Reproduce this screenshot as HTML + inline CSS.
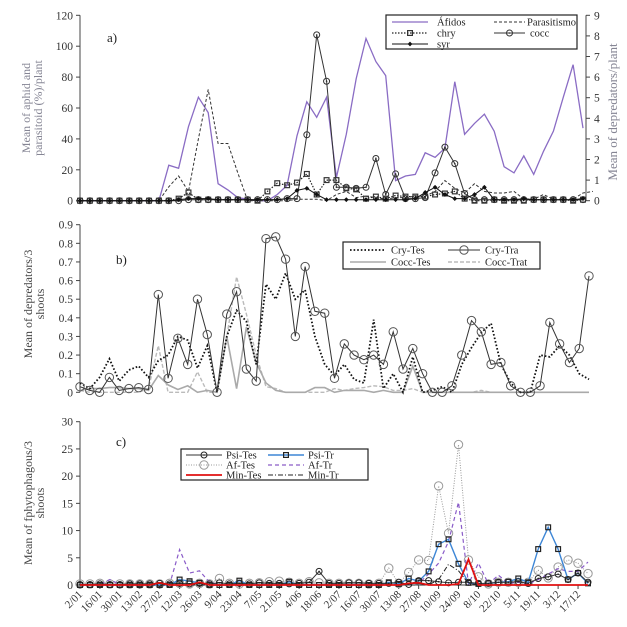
<!DOCTYPE html>
<html><head><meta charset="utf-8"><style>
html,body{margin:0;padding:0;background:#fff;}
svg{display:block;font-family:"Liberation Serif",serif;}
</style></head><body>
<svg id="chart" width="627" height="627" viewBox="0 0 627 627">
<g id="axes"></g>
<g id="series"></g>
<g id="legends"></g>
<text x="107" y="42" font-size="13" fill="#222">a)</text>
<text x="116" y="264" font-size="13" fill="#222">b)</text>
<text x="116" y="446" font-size="13" fill="#222">c)</text>
<text transform="translate(30,108) rotate(-90)" text-anchor="middle" font-size="12" fill="#858594">Mean of aphid and</text>
<text transform="translate(42,108) rotate(-90)" text-anchor="middle" font-size="12" fill="#858594">parasitoid  (%)/plant</text>
<text transform="translate(617,112) rotate(-90)" text-anchor="middle" font-size="13" fill="#858594">Mean of depredators/plant</text>
<text transform="translate(32,304) rotate(-90)" text-anchor="middle" font-size="12" fill="#444">Mean of depredators/3</text>
<text transform="translate(44,304) rotate(-90)" text-anchor="middle" font-size="12" fill="#444">shoots</text>
<text transform="translate(32,503) rotate(-90)" text-anchor="middle" font-size="12" fill="#444">Mean of fphytophagous/3</text>
<text transform="translate(44,503) rotate(-90)" text-anchor="middle" font-size="12" fill="#444">shoots</text>
</svg>
<script>
// ---------- Panel a data ----------
const aAfidos=[0,0,0,0,0,0,0,0,0,23,21,48,67,57,11,7,2,1,0,0,4,10,42,64,54,67,15,43,79,105,90,81,13,16,17,31,28,34,77,43,50,56,45,22,18,29,17,32,45,67,88,47];
const aParasitismo=[0,0,0,0,0,0,0,0,0,9,16,6,40,72,37,37,18,0,0,0,0,0,1,1,1,0,4,6,2,3,2,1,2,2,3,3,6,13,8,5,11,6,5,5,6,1,1,4,1,1,1,5,6];
const aChry=[0,0,0,0,0,0,0,0,0,0,0.1,0.4,0.05,0.05,0.05,0.05,0.05,0.05,0,0.45,0.85,0.75,0.88,1.3,0.3,1.0,1.0,0.6,0.55,0.1,0.2,0.1,0.25,0.2,0.2,0.2,0.3,0.35,0.45,0.1,0,0,0.05,0,0,0,0.05,0.05,0.05,0.05,0,0.05];
const aCoce=[0,0,0,0,0,0,0,0,0,0,0,0.05,0.05,0.05,0.05,0.05,0.05,0.05,0.05,0.05,0.05,0.1,0.1,3.2,8.05,5.8,0.65,0.65,0.6,0.65,2.05,0.3,1.3,0.1,0.1,0.15,1.35,2.6,1.8,0.35,0.05,0.05,0.05,0.05,0.05,0.05,0.05,0.05,0.05,0.05,0.05,0.05];
const aSyr=[0,0,0,0,0,0,0,0,0,0,0.05,0.1,0.1,0.1,0.05,0.05,0.05,0.05,0.05,0.05,0.05,0.1,0.5,0.6,0.3,0.05,0.05,0.05,0.05,0.05,0.05,0.05,0.05,0.05,0.1,0.4,0.65,0.3,0.1,0.1,0.3,0.65,0.05,0.05,0.05,0.1,0.05,0.05,0.05,0.05,0.05,0.1];
const aLeftTicks=[0,20,40,60,80,100,120];
const aRightTicks=[0,1,2,3,4,5,6,7,8,9];
// ---------- Panel b data ----------
const bCryTes=[0.05,0.02,0.08,0.18,0.06,0.12,0.14,0.08,0.17,0.2,0.3,0.28,0.13,0.25,0,0.3,0.44,0.38,0.15,0.58,0.5,0.64,0.5,0.55,0.3,0.15,0.09,0.15,0.07,0.05,0.39,0.02,0.1,0,0.19,0,0.01,0.03,0,0.15,0.24,0.32,0.37,0.15,0.05,0,0,0.2,0.19,0.25,0.2,0.1,0.07];
const bCryTra=[0.03,0.01,0,0.08,0.01,0.02,0.025,0.015,0.525,0.075,0.29,0.15,0.5,0.31,0,0.42,0.54,0.125,0.06,0.825,0.835,0.715,0.3,0.675,0.435,0.425,0.075,0.26,0.2,0.175,0.2,0.15,0.325,0.125,0.235,0.1,0,0,0.035,0.2,0.385,0.325,0.15,0.16,0.035,0,0,0.035,0.375,0.26,0.16,0.235,0.625];
const bCoceTes=[0.01,0.02,0.02,0.025,0.025,0.02,0.02,0.01,0.09,0.04,0.015,0.035,0,0.01,0,0.3,0.02,0.35,0.16,0.05,0.01,0,0,0,0.025,0.025,0,0.01,0.01,0.01,0,0.01,0,0,0.14,0,0,0,0,0,0,0,0,0,0,0,0,0,0,0,0,0,0];
const bCoceTrat=[0.01,0,0,0,0,0,0,0.02,0.25,0,0,0,0.11,0,0,0.3,0.62,0.42,0.2,0.03,0.02,0,0,0,0,0,0.02,0.01,0.02,0.025,0.035,0.03,0.01,0.01,0.02,0,0,0,0,0,0,0.01,0,0,0,0,0,0,0,0,0,0,0];
const bTicks=[0,0.1,0.2,0.3,0.4,0.5,0.6,0.7,0.8,0.9];
// ---------- Panel c data ----------
const cPsiTes=[0.1,0.1,0.2,0.1,0.1,0.2,0.2,0.2,0.3,0.2,0.3,0.2,0.3,0.2,0.4,0.2,0.3,0.2,0.4,0.3,0.3,0.2,0.3,0.5,2.5,0.3,0.3,0.4,0.4,0.3,0.3,0.3,0.5,0.1,0.8,0.8,0.6,0.4,0.5,0.5,0.3,0.3,0.5,0.5,0.6,0.3,1.2,1.5,2.0,1.0,2.2,0.5];
const cPsiTr=[0,0,0,0,0,0,0,0,0,0,1.0,0.7,0.4,0,0,0,0.8,0,0,0,0,0.6,0,0,0,0,0,0,0,0,0,0.5,0.2,1.2,0.7,2.5,7.5,8.4,3.9,0.4,0.2,0.3,0.5,0.6,1.2,0.5,6.6,10.6,6.6,1.0,2.2,0.3];
const cAfTes=[0.2,0.2,0.3,0.2,0.2,0.2,0.2,0.2,0.2,0.3,0.3,0.2,0.3,0.2,1.2,0.3,0.2,0.3,0.4,0.6,0.7,0.5,0.3,0.6,0.4,0.3,0.3,0.3,0.3,0.2,0.3,3.1,0.3,2.3,4.6,4.5,18.2,9.5,25.8,4.6,1.5,0.2,0.5,0.5,0.5,0.5,2.7,1.3,3.3,4.6,4.0,2.1];
const cAfTr=[0.1,0.1,0.1,1.0,0.1,0.1,0.1,0.1,0.1,0.1,6.5,2.2,2.6,0.5,0.1,0.1,0.1,0.1,0.1,0.1,0.1,0.1,0.1,0.1,0.1,0.1,0.1,0.1,0.1,0.1,0.1,0.1,0.1,0.1,0.3,2.0,4.0,8.0,15.2,0.2,4.0,0.2,1.8,0.3,0.5,0.2,1.0,2.0,3.0,2.5,2.5,4.2];
const cMinTes=[0,0,0,0,0,0,0,0,0.4,0,0,0,0.5,0,0,0,0,0,0,0,0,0,0,0,0,0,0,0,0,0,0,0,0,0.3,0.4,0,0,0,0.2,4.7,0,0,0,0,0,0,0,0,0,0,0,0];
const cMinTr=[0,0,0,0,0,0,0,0,0,0,0,0,0,0,0,0,0,0,0,0,0,0,0,0,0,0,0,0,0,0,0,0,0,0,0,0,1.0,3.8,2.6,0.3,0,0,0,0,0,0,0,0,0,0,0,0];
const cTicks=[0,5,10,15,20,25,30];
const cDates=["2/01","16/01","30/01","13/02","27/02","12/03","26/03","9/04","23/04","7/05","21/05","4/06","18/06","2/07","16/07","30/07","13/08","27/08","10/09","24/09","8/10","22/10","5/11","19/11","3/12","17/12"];

const NS="http://www.w3.org/2000/svg";
const axesG=document.getElementById('axes');
const serG=document.getElementById('series');
const legG=document.getElementById('legends');
function mk(tag,attrs,parent){const e=document.createElementNS(NS,tag);for(const k in attrs)e.setAttribute(k,attrs[k]);parent.appendChild(e);return e;}

const xA=i=>80+i*(503/51);
const yAL=v=>200.7-v*(185.4/120);
const yAR=v=>200.7-v*(185.4/9);
const xB=i=>80+i*(509/52);
const yB=v=>392.3-v*(167.6/0.9);
const xC=i=>80+i*(508/51);
const yC=v=>585-v*(163.3/30);

function marker(type,x,y,color,parent){
  let m;
  if(type==='circle'){m=mk('circle',{cx:x,cy:y,r:3,fill:'none',stroke:color,'stroke-width':1},parent);mk('circle',{cx:x,cy:y,r:0.8,fill:color},parent);}
  else if(type==='bigcircle'){m=mk('circle',{cx:x,cy:y,r:4.2,fill:'none',stroke:color,'stroke-width':1},parent);}
  else if(type==='square'){m=mk('rect',{x:x-2.4,y:y-2.4,width:4.8,height:4.8,fill:'none',stroke:color,'stroke-width':1.2},parent);}
  else if(type==='diamond'){m=mk('path',{d:`M${x} ${y-2.4}L${x+2.4} ${y}L${x} ${y+2.4}L${x-2.4} ${y}Z`,fill:color},parent);}
  return m;
}
function drawSeries(name,vals,xf,yf,style,mtype,mcolor){
  const g=mk('g',{},serG);
  
  
  const pts=vals.map((v,i)=>xf(i).toFixed(1)+','+yf(v).toFixed(1)).join(' ');
  const pl=mk('polyline',Object.assign({points:pts,fill:'none'},style),g);
  
  
  if(mtype){vals.forEach((v,i)=>{const m=marker(mtype,xf(i),yf(v),mcolor,g);
    
    });}
}
function yAxis(prefix,x,ticks,yf,side,fmt){
  const g=mk('g',{},axesG);
  
  
  mk('line',{x1:x,x2:x,y1:yf(ticks[0]),y2:yf(ticks[ticks.length-1]),stroke:'#444','stroke-width':1},g);
  ticks.forEach(t=>{
    const y=yf(t);
    const dx=side==='left'?-4:4;
    mk('line',{x1:x,x2:x+dx,y1:y,y2:y,stroke:'#444','stroke-width':1},g);
    const tx=mk('text',{x:side==='left'?x-7:x+8,y:y+4,'font-size':11.5,fill:'#333','text-anchor':side==='left'?'end':'start'},g);
    tx.textContent=fmt(t);
    
    
  });
}
yAxis('y-axis-a-left',80,aLeftTicks,yAL,'left',t=>String(t));
yAxis('y-axis-a-right',586,aRightTicks,yAR,'right',t=>String(t));
yAxis('y-axis-b',80,bTicks,yB,'left',t=>t===0?'0':t.toFixed(1));
yAxis('y-axis-c',80,cTicks,yC,'left',t=>String(t));

const xg=mk('g',{},axesG);


mk('line',{x1:80,x2:xC(51),y1:585,y2:585,stroke:'#444','stroke-width':1},xg);
cDates.forEach((d,k)=>{
  const x=xC(k*2);
  mk('line',{x1:x,x2:x,y1:585,y2:589,stroke:'#444'},xg);
  const t=mk('text',{transform:`translate(${x+3},595) rotate(-45)`,'text-anchor':'end','font-size':11,fill:'#333'},xg);
  t.textContent=d;
  
  
});

drawSeries('afidos-series',aAfidos,xA,yAL,{stroke:'#8a6cc4','stroke-width':1.3},null);
drawSeries('parasitismo-series',aParasitismo,xA,yAL,{stroke:'#333','stroke-width':1,'stroke-dasharray':'3,2'},null);
drawSeries('chry-series',aChry,xA,yAR,{stroke:'#222','stroke-width':1.2,'stroke-dasharray':'1.5,1.5'},'square','#333');
drawSeries('cocc-series',aCoce,xA,yAR,{stroke:'#333','stroke-width':1},'circle','#333');
drawSeries('syr-series',aSyr,xA,yAR,{stroke:'#111','stroke-width':1},'diamond','#111');
drawSeries('coce-trat-series',bCoceTrat,xB,yB,{stroke:'#bbb','stroke-width':1.4,'stroke-dasharray':'4,2'},null);
drawSeries('coce-tes-series',bCoceTes,xB,yB,{stroke:'#aaa','stroke-width':1.6},null);
drawSeries('cry-tes-series',bCryTes,xB,yB,{stroke:'#111','stroke-width':1.8,'stroke-dasharray':'1.6,2'},null);
drawSeries('cry-tra-series',bCryTra,xB,yB,{stroke:'#333','stroke-width':1},'bigcircle','#555');
drawSeries('af-tes-series',cAfTes,xC,yC,{stroke:'#999','stroke-width':1,'stroke-dasharray':'1,1.5'},'bigcircle','#999');
drawSeries('af-tr-series',cAfTr,xC,yC,{stroke:'#8a5cc8','stroke-width':1.2,'stroke-dasharray':'4,3'},null);
drawSeries('psi-tr-series',cPsiTr,xC,yC,{stroke:'#3d86d6','stroke-width':1.4},'square','#222');
drawSeries('psi-tes-series',cPsiTes,xC,yC,{stroke:'#333','stroke-width':1},'circle','#222');
drawSeries('min-tr-series',cMinTr,xC,yC,{stroke:'#222','stroke-width':1,'stroke-dasharray':'5,2,1,2'},null);
drawSeries('min-tes-series',cMinTes,xC,yC,{stroke:'#e01010','stroke-width':1.8},null);

function legend(name,x,y,w,h,items){
  const g=mk('g',{},legG);
  
  
  mk('rect',{x:x,y:y,width:w,height:h,fill:'#fff',stroke:'#222','stroke-width':1.2},g);
  items.forEach(it=>{
    const e=mk('g',{},g);
    
    
    mk('line',Object.assign({x1:it.x1,x2:it.x2,y1:it.y,y2:it.y},it.style),e);
    if(it.m)marker(it.m,(it.x1+it.x2)/2,it.y,it.mc,e);
    const t=mk('text',{x:it.tx,y:it.y+3.5,'font-size':10.5,fill:'#222'},e);
    t.textContent=it.label;
  });
}
legend('legend-a',386,15,191,34,[
  {label:'Áfidos',x1:392,x2:428,y:22,tx:437,style:{stroke:'#8a6cc4','stroke-width':1.3}},
  {label:'Parasitismo',x1:494,x2:525,y:22,tx:527,style:{stroke:'#333','stroke-dasharray':'3,2'}},
  {label:'chry',x1:392,x2:428,y:33,tx:437,style:{stroke:'#222','stroke-width':1.2,'stroke-dasharray':'1.5,1.5'},m:'square',mc:'#333'},
  {label:'cocc',x1:494,x2:525,y:33,tx:530,style:{stroke:'#333'},m:'circle',mc:'#333'},
  {label:'syr',x1:392,x2:428,y:44,tx:437,style:{stroke:'#111'},m:'diamond',mc:'#111'}
]);
legend('legend-b',343,242,197,27,[
  {label:'Cry-Tes',x1:350,x2:386,y:250,tx:391,style:{stroke:'#111','stroke-width':1.8,'stroke-dasharray':'1.6,2'}},
  {label:'Cry-Tra',x1:448,x2:480,y:250,tx:485,style:{stroke:'#333'},m:'bigcircle',mc:'#555'},
  {label:'Cocc-Tes',x1:350,x2:386,y:262,tx:391,style:{stroke:'#aaa','stroke-width':1.6}},
  {label:'Cocc-Trat',x1:448,x2:480,y:262,tx:485,style:{stroke:'#bbb','stroke-width':1.4,'stroke-dasharray':'4,2'}}
]);
legend('legend-c',181,449,187,31,[
  {label:'Psi-Tes',x1:186,x2:222,y:455,tx:226,style:{stroke:'#333'},m:'circle',mc:'#222'},
  {label:'Psi-Tr',x1:268,x2:304,y:455,tx:308,style:{stroke:'#3d86d6','stroke-width':1.4},m:'square',mc:'#222'},
  {label:'Af-Tes',x1:186,x2:222,y:465,tx:226,style:{stroke:'#999','stroke-dasharray':'1,1.5'},m:'bigcircle',mc:'#999'},
  {label:'Af-Tr',x1:268,x2:304,y:465,tx:308,style:{stroke:'#8a5cc8','stroke-width':1.2,'stroke-dasharray':'4,3'}},
  {label:'Min-Tes',x1:186,x2:222,y:475,tx:226,style:{stroke:'#e01010','stroke-width':1.8}},
  {label:'Min-Tr',x1:268,x2:304,y:475,tx:308,style:{stroke:'#222','stroke-dasharray':'5,2,1,2'}}
]);
</script>
</body></html>
